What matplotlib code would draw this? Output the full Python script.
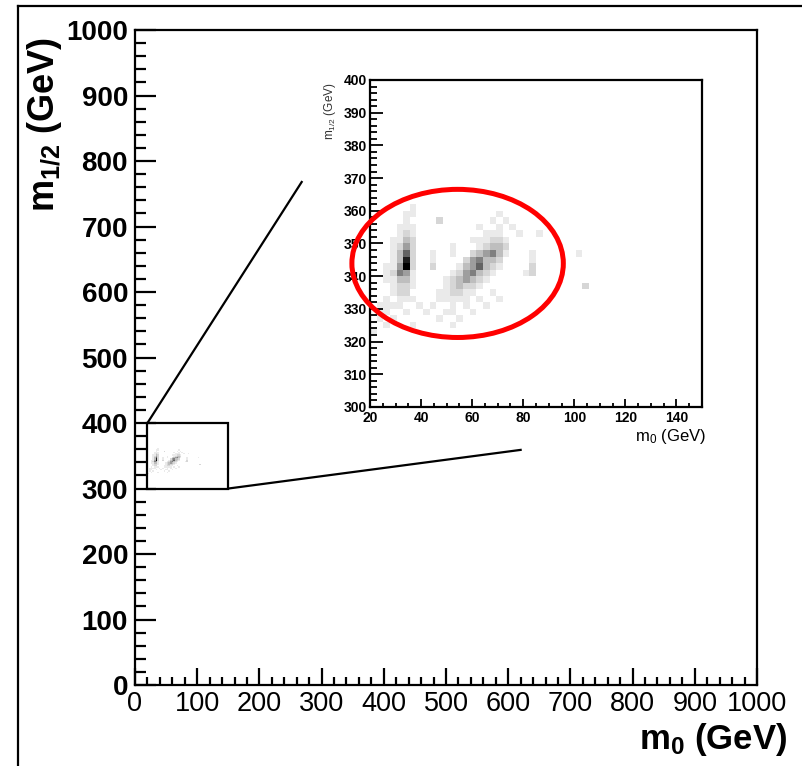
import numpy as np
import matplotlib
matplotlib.use('Agg')
import matplotlib.pyplot as plt
from matplotlib import font_manager
from matplotlib.patches import Ellipse, Rectangle
from matplotlib.lines import Line2D
from matplotlib.ticker import MultipleLocator

# font setup: ROOT-ish helvetica look
plt.rcParams['font.family'] = 'Liberation Sans'
plt.rcParams['mathtext.fontset'] = 'custom'
plt.rcParams['mathtext.rm'] = 'Liberation Sans'
plt.rcParams['mathtext.bf'] = 'Liberation Sans:bold'
plt.rcParams['mathtext.it'] = 'Liberation Sans:italic'
fontNames = set(f.name for f in font_manager.fontManager.ttflist)
narrowFont = 'Liberation Sans Narrow' if 'Liberation Sans Narrow' in fontNames else 'Liberation Sans'
xTickSize = 23 if narrowFont == 'Liberation Sans Narrow' else 19.5

# scan binning (GeV)
m0Edges = np.linspace(20, 150, 51)
m12Edges = np.linspace(300, 400, 51)

# bin contents, one string per m12 bin starting at bin 10 (320 GeV), '.' = empty
firstRow = 10
histRows = [
    "",
    "1",
    "..1...1.....1",
    ".1.1......1..1",
    ".11..1..1..11..1",
    ".1111..1.1..1.1..1",
    "..1.111...11111.1..1",
    "...122....112211..1",
    "...1221....123221...............2",
    "..11331....1234321",
    "..12541.....1245321....12",
    "..11492..2...1346321....2",
    "...1382..1....245332....1",
    "...1362..1..1..234531...1......1",
    "...1242.....1...12332",
    "...1132........111221",
    "....121..........111..1..1",
    "....111.........1..1.1",
    ".....1....2.......1.1",
    ".....11............1",
    "......1",
]

counts = np.zeros((50, 50))
for j, row in enumerate(histRows):
    for i, c in enumerate(row):
        if c != '.':
            counts[firstRow + j, i] = int(c)
counts = np.ma.masked_equal(counts, 0)

# zoom box and connector lines on the full plane
boxM0 = [20, 150]
boxM12 = [300, 400]
line1M0 = [20, 268]
line1M12 = [400, 768]
line2M0 = [150, 620]
line2M12 = [300, 359]

# highlighted region in the zoom
ellCentre = (54.3, 343.9)
ellWidth = 82.8
ellHeight = 45.3

fig = plt.figure(figsize=(8.03, 7.66), dpi=100)

# full m0-m1/2 plane
ax = fig.add_axes([0.1681, 0.1057, 0.7746, 0.8551])
ax.pcolormesh(m0Edges, m12Edges, counts, cmap='Greys', vmin=-0.5, vmax=9, shading='flat')
ax.set_xlim(0, 1000)
ax.set_ylim(0, 1000)
ax.xaxis.set_major_locator(MultipleLocator(100))
ax.xaxis.set_minor_locator(MultipleLocator(20))
ax.yaxis.set_major_locator(MultipleLocator(100))
ax.yaxis.set_minor_locator(MultipleLocator(20))
for s in ax.spines.values():
    s.set_linewidth(1.6)
ax.tick_params(axis='y', which='major', direction='in', length=15, width=1.6, pad=5, labelsize=20)
ax.tick_params(axis='y', which='minor', direction='in', length=8, width=1.6)
ax.tick_params(axis='x', which='major', direction='in', length=12, width=1.6, pad=4, labelsize=xTickSize)
ax.tick_params(axis='x', which='minor', direction='in', length=6, width=1.6)
for t in ax.get_yticklabels():
    t.set_fontweight('bold')
for t in ax.get_xticklabels():
    t.set_fontfamily(narrowFont)

ax.add_patch(Rectangle((boxM0[0], boxM12[0]), boxM0[1]-boxM0[0], boxM12[1]-boxM12[0],
                       fill=False, edgecolor='black', lw=1.6, zorder=4))
ax.plot(line1M0, line1M12, color='black', lw=1.6, clip_on=False, zorder=4)
ax.plot(line2M0, line2M12, color='black', lw=1.6, clip_on=False, zorder=4)

fig.text(45/803, 1-37/766, r'$\mathbf{m_{1/2}}$ (GeV)', rotation=90, ha='center', va='top',
         fontsize=26, fontweight='bold')
fig.text(787/803, 1-740/766, r'$\mathbf{m_0}$ (GeV)', ha='right', va='center',
         fontsize=25, fontweight='bold')

# zoomed view
ins = fig.add_axes([0.4608, 0.4687, 0.4134, 0.4269])
ins.pcolormesh(m0Edges, m12Edges, counts, cmap='Greys', vmin=-0.5, vmax=9, shading='flat')
ins.set_xlim(20, 150)
ins.set_ylim(300, 400)
ins.xaxis.set_major_locator(MultipleLocator(20))
ins.xaxis.set_minor_locator(MultipleLocator(5))
ins.yaxis.set_major_locator(MultipleLocator(10))
ins.yaxis.set_minor_locator(MultipleLocator(2))
for s in ins.spines.values():
    s.set_linewidth(1.6)
ins.tick_params(axis='y', which='major', direction='in', length=9, width=1.3, pad=2, labelsize=10)
ins.tick_params(axis='y', which='minor', direction='in', length=5, width=1.3)
ins.tick_params(axis='x', which='major', direction='in', length=6, width=1.3, pad=3, labelsize=10)
ins.tick_params(axis='x', which='minor', direction='in', length=3, width=1.3)
for t in ins.get_xticklabels() + ins.get_yticklabels():
    t.set_fontweight('bold')
ins.add_patch(Ellipse(ellCentre, ellWidth, ellHeight, fill=False, edgecolor='red',
                      lw=3.6, clip_on=False, zorder=5))
fig.text(330/803, 1-82/766, r'$\mathrm{m_{1/2}}$ (GeV)', rotation=90, ha='center', va='top',
         fontsize=8.5, color='#333333')
fig.text(706/803, 1-437/766, r'$\mathrm{m_0}$ (GeV)', ha='right', va='center', fontsize=12)

# page frame
fx = 18/803
fy = 1 - 6/766
fig.add_artist(Line2D([fx, fx], [0, fy], transform=fig.transFigure, color='black', lw=1.6))
fig.add_artist(Line2D([fx, 1], [fy, fy], transform=fig.transFigure, color='black', lw=1.6))

fig.savefig('out.png', dpi=100)
